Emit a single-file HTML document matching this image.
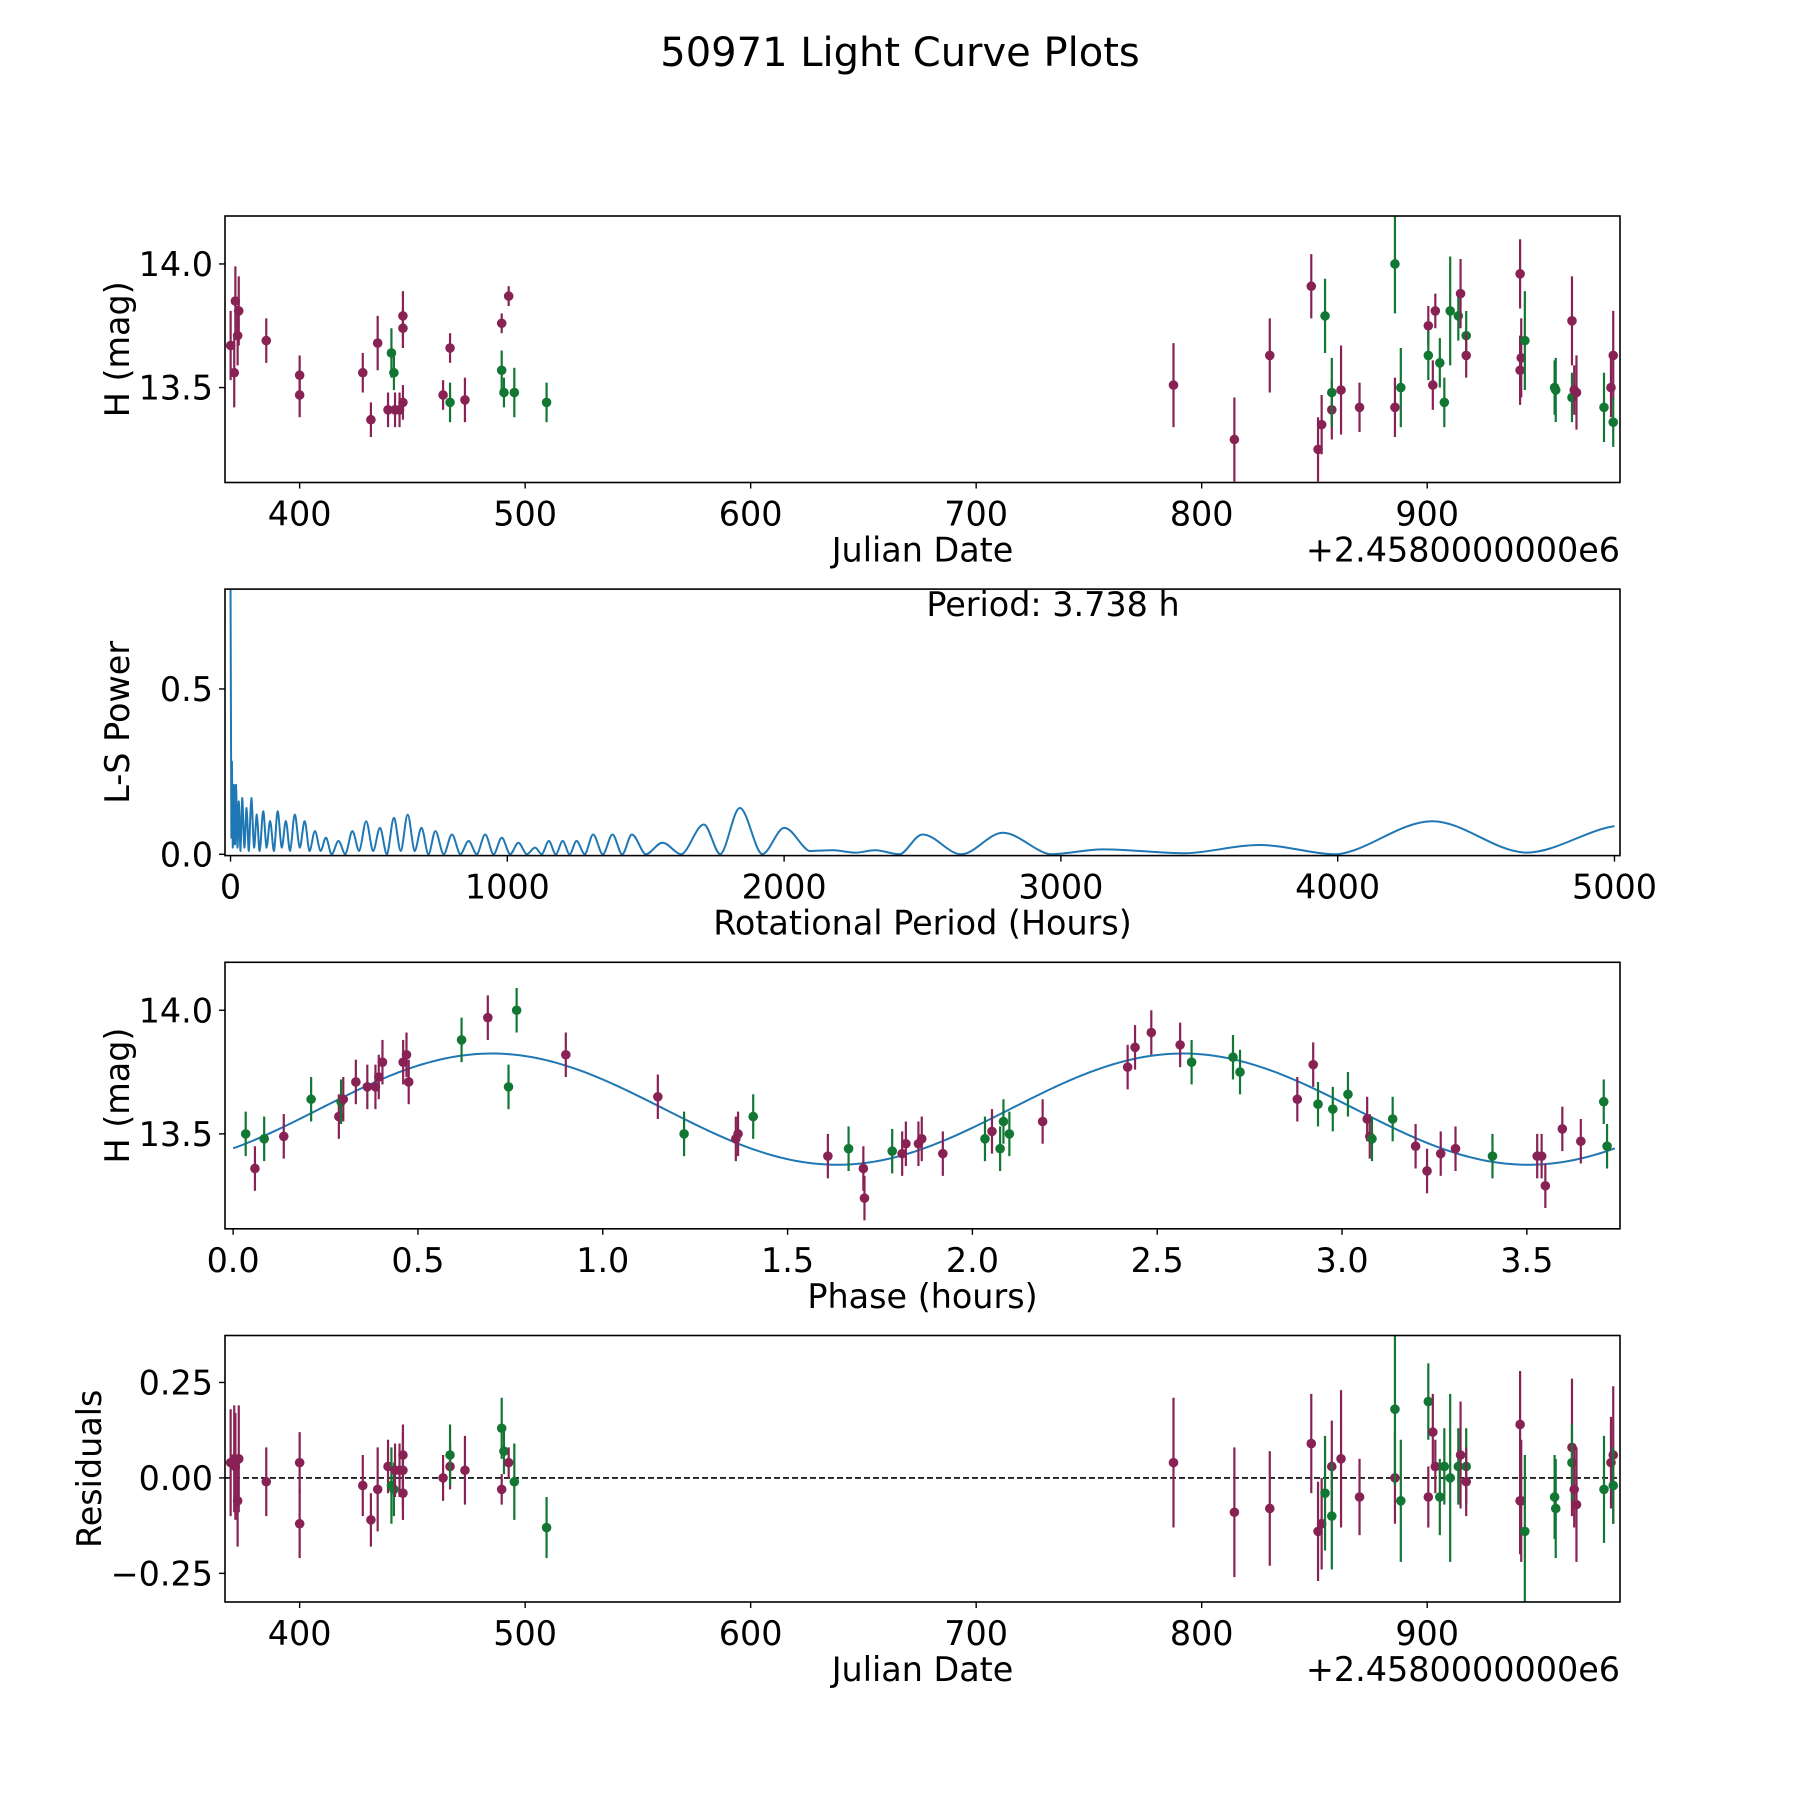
<!DOCTYPE html>
<html><head><meta charset="utf-8"><style>
html,body{margin:0;padding:0;background:#fff}
svg{display:block;font-family:"DejaVu Sans","Liberation Sans",sans-serif}
</style></head><body>
<svg id="fig" width="1800" height="1800" viewBox="0 0 1800 1800" xmlns="http://www.w3.org/2000/svg">
<rect width="1800" height="1800" fill="#fff"/>
<text x="900" y="66" font-size="40" text-anchor="middle">50971 Light Curve Plots</text>
</svg>
<script>
// ---- Data ----
const jd = [369.4,371,371.5,372.5,373,385.2,400,400,428,431.6,434.6,439.2,440.7,441.8,442.3,444.3,445.8,445.8,445.8,463.6,466.7,466.7,473.3,489.6,489.6,490.6,492.7,495.2,509.5,
787.5,814.5,830.2,848.6,851.6,853.2,854.7,857.7,857.7,861.8,870,885.7,885.7,888.3,900.5,900.5,902.5,903.6,905.6,907.6,910.2,913.8,914.8,917.3,917.3,941.2,941.2,941.7,943.3,956.5,957,964.2,964.2,965.2,966.2,978.4,981.5,982.5,982.5];
const mag = [13.67,13.56,13.85,13.71,13.81,13.69,13.55,13.47,13.56,13.37,13.68,13.41,13.64,13.56,13.41,13.41,13.74,13.79,13.44,13.47,13.66,13.44,13.45,13.76,13.57,13.48,13.87,13.48,13.44,
13.51,13.29,13.63,13.91,13.25,13.35,13.79,13.41,13.48,13.49,13.42,13.42,14.0,13.50,13.75,13.63,13.51,13.81,13.60,13.44,13.81,13.79,13.88,13.71,13.63,13.96,13.57,13.62,13.69,13.50,13.49,13.77,13.46,13.49,13.48,13.42,13.50,13.63,13.36];
const magErr = [0.14,0.14,0.14,0.12,0.14,0.09,0.08,0.09,0.08,0.07,0.11,0.07,0.1,0.07,0.07,0.07,0.08,0.1,0.07,0.06,0.06,0.08,0.09,0.04,0.08,0.06,0.04,0.1,0.08,
0.17,0.17,0.15,0.13,0.13,0.12,0.15,0.12,0.14,0.18,0.1,0.12,0.2,0.16,0.08,0.1,0.1,0.07,0.1,0.1,0.22,0.1,0.14,0.1,0.09,0.14,0.14,0.16,0.2,0.11,0.13,0.18,0.1,0.1,0.15,0.14,0.12,0.18,0.1];
const band = "mmmmmmmmmmmmggmmmmmmmgmmggmgg"+"mmmmmmgmgmmmggmgmmggggmgmmmmgggmgmmgmmgg"+"m";
const resid = [0.04,0.05,0.03,-0.06,0.05,-0.01,0.04,-0.12,-0.02,-0.11,-0.03,0.03,-0.02,-0.03,0.02,0.02,0.06,0.02,-0.04,0.0,0.03,0.06,0.02,-0.03,0.13,0.07,0.04,-0.01,-0.13,
0.04,-0.09,-0.08,0.09,-0.14,-0.12,-0.04,0.03,-0.10,0.05,-0.05,0.0,0.18,-0.06,-0.05,0.20,0.12,0.03,-0.05,0.03,0.0,0.03,0.06,0.03,-0.01,0.14,-0.06,-0.06,-0.14,-0.05,-0.08,0.08,0.04,-0.03,-0.07,-0.03,0.04,0.06,-0.02];
const phase = [0.034,0.059,0.084,0.137,0.211,0.286,0.292,0.298,0.332,0.363,0.385,0.394,0.404,0.46,0.469,0.475,0.618,0.689,0.745,0.767,0.90,1.149,1.22,1.36,1.366,1.407,1.609,1.665,1.705,1.708,1.783,1.81,1.82,1.854,1.863,1.92,2.034,2.053,2.075,2.084,2.10,2.19,2.42,2.44,2.484,2.562,2.593,2.705,2.724,2.879,2.922,2.935,2.975,3.016,3.068,3.075,3.081,3.137,3.199,3.23,3.267,3.307,3.407,3.528,3.54,3.55,3.596,3.646,3.708,3.717];
const phaseMag = [13.50,13.36,13.48,13.49,13.64,13.57,13.63,13.64,13.71,13.69,13.69,13.73,13.79,13.79,13.82,13.71,13.88,13.97,13.69,14.0,13.82,13.65,13.50,13.48,13.50,13.57,13.41,13.44,13.36,13.24,13.43,13.42,13.46,13.46,13.48,13.42,13.48,13.51,13.44,13.55,13.50,13.55,13.77,13.85,13.91,13.86,13.79,13.81,13.75,13.64,13.78,13.62,13.60,13.66,13.56,13.49,13.48,13.56,13.45,13.35,13.42,13.44,13.41,13.41,13.41,13.29,13.52,13.47,13.63,13.45];
const phaseBand = "gmgmgmgmmmmmmmmmgmgg"+"mmgmmgmgmmgmmmmmgmggg"+"mmmmmgggmmgggmmggmmmmgmmmmmggm";
const periodH = [0,3,5,8,12,16,20,25,30,36,42,50,58,66,75,85,95,105,118,130,143,157,170,185,200,215,232,250,268,285,305,325,345,365,390,415,440,465,490,515,540,565,590,615,640,665,690,715,740,770,800,830,860,890,920,950,980,1010,1040,1070,1100,1125,1150,1175,1200,1225,1250,1280,1310,1345,1380,1415,1450,1500,1560,1630,1710,1770,1840,1920,2000,2090,2180,2260,2330,2420,2500,2640,2790,2960,3150,3450,3720,4000,4340,4680,5000];
const power = [0.80,0.05,0.28,0.02,0.21,0.03,0.21,0.02,0.16,0.01,0.17,0.02,0.14,0.01,0.17,0.02,0.12,0.01,0.13,0.02,0.10,0.01,0.13,0.02,0.10,0.01,0.12,0.02,0.10,0.01,0.07,0.01,0.05,0.0,0.04,0.0,0.07,0.01,0.10,0.01,0.08,0.0,0.11,0.01,0.12,0.01,0.08,0.0,0.07,0.0,0.06,0.0,0.04,0.0,0.06,0.0,0.05,0.0,0.035,0.0,0.02,0.0,0.04,0.0,0.04,0.0,0.04,0.0,0.06,0.0,0.06,0.0,0.06,0.0,0.035,0.0,0.09,0.0,0.14,0.0,0.08,0.01,0.012,0.005,0.012,0.0,0.06,0.0,0.065,0.0,0.015,0.003,0.028,0.0,0.10,0.005,0.085];
const modelMean = 13.6, modelAmp = 0.225, modelPeak = 0.7, modelPeriod = 3.738;
const jdTicks = [400,500,600,700,800,900];
const magTicks = [13.5,14.0];
const perTicks = [0,1000,2000,3000,4000,5000];
const powTicks = [0,0.5];
const phTicks = [0,0.5,1,1.5,2,2.5,3,3.5];
const resTicks = [-0.25,0,0.25];

// ---- Helpers ----
const NS="http://www.w3.org/2000/svg", svg=document.getElementById('fig');
const MC="#882255", GC="#117733", FS=33.4;
function mk(t,a,p){const e=document.createElementNS(NS,t);for(const k in a)e.setAttribute(k,a[k]);(p||svg).appendChild(e);return e;}
const L=225,W=1395,H=266.5,tops=[216,589.1,962.3,1335.5];
function lin(d0,d1,r0,r1){return v=>r0+(v-d0)/(d1-d0)*(r1-r0);}
function panel(i,xd,yd,xt,yt,xfmt,yfmt,xlab,ylab,offset,name){
  const g=mk('g',{});
  
  
  const T=tops[i], x=lin(xd[0],xd[1],L,L+W), y=lin(yd[0],yd[1],T+H,T);
  const body=mk('g',{},g);
  const frame=()=>{
    const f=mk('rect',{x:L,y:T,width:W,height:H,fill:'none',stroke:'#000','stroke-width':1.6},g);
     
    xt.forEach(v=>{const px=x(v);mk('line',{x1:px,x2:px,y1:T+H,y2:T+H+6,stroke:'#000','stroke-width':1.4},g);
      const t=mk('text',{x:px,y:T+H+43,'font-size':FS,'text-anchor':'middle'},g);t.textContent=xfmt(v);
      });
    yt.forEach(v=>{const py=y(v);mk('line',{x1:L-6,x2:L,y1:py,y2:py,stroke:'#000','stroke-width':1.4},g);
      const t=mk('text',{x:L-12,y:py+12,'font-size':FS,'text-anchor':'end'},g);t.textContent=yfmt(v);
      });
    const xl=mk('text',{x:L+W/2,y:T+H+79,'font-size':FS,'text-anchor':'middle'},g);xl.textContent=xlab;
    
    const yl=mk('text',{x:0,y:0,'font-size':FS,'text-anchor':'middle',transform:`translate(${i==3?101:129},${T+H/2}) rotate(-90)`},g);yl.textContent=ylab;
    
    if(offset){const o=mk('text',{x:L+W,y:T+H+79,'font-size':FS,'text-anchor':'end'},g);o.textContent=offset;
      }
  };
  const clip=mk('clipPath',{id:'c'+i},g);mk('rect',{x:L,y:T,width:W,height:H},clip);
  body.setAttribute('clip-path','url(#c'+i+')');
  return {x,y,body,frame};
}
function errpt(p,xv,yv,e,c){
  const px=p.x(xv),py=p.y(yv);
  const l=mk('line',{x1:px,x2:px,y1:p.y(yv-e),y2:p.y(yv+e),stroke:c,'stroke-width':2.2},p.body);
  
  const d=mk('circle',{cx:px,cy:py,r:4.8,fill:c},p.body);
  
}
const jdFmt=v=>String(v), off='+2.4580000000e6';

// Panel 1
const p1=panel(0,[366.9,985.5],[13.116,14.194],jdTicks,magTicks,jdFmt,v=>v.toFixed(1),'Julian Date','H (mag)',off,'light-curve-panel');
jd.forEach((v,i)=>errpt(p1,v,mag[i],magErr[i],band[i]=='g'?GC:MC));
p1.frame();

// Panel 2 (smooth curve through data points)
const p2=panel(1,[-20,5020],[-0.004,0.802],perTicks,powTicks,v=>String(v),v=>v.toFixed(1),'Rotational Period (Hours)','L-S Power',null,'periodogram-panel');
const pts=periodH.map((v,i)=>[p2.x(v),p2.y(power[i])]);
let d='M'+pts[0][0].toFixed(2)+','+pts[0][1].toFixed(2);
for(let i=0;i<pts.length-1;i++){
  const p0=pts[Math.max(0,i-1)],a=pts[i],b=pts[i+1],p3=pts[Math.min(pts.length-1,i+2)];
  let c1y=a[1]+(b[1]-p0[1])/6, c2y=b[1]-(p3[1]-a[1])/6;
  const lo=Math.max(a[1],b[1]), hi=Math.min(a[1],b[1]);
  c1y=Math.min(Math.max(c1y,hi-40),lo); c2y=Math.min(Math.max(c2y,hi-40),lo);
  d+='C'+(a[0]+(b[0]-a[0])/3).toFixed(2)+','+c1y.toFixed(2)+' '+(b[0]-(b[0]-a[0])/3).toFixed(2)+','+c2y.toFixed(2)+' '+b[0].toFixed(2)+','+b[1].toFixed(2);
}
const pl=mk('path',{d:d,fill:'none',stroke:'#1f77b4','stroke-width':2,'stroke-linejoin':'round'},p2.body);

p2.frame();
const pt=mk('text',{x:1053,y:tops[1]+27,'font-size':FS,'text-anchor':'middle'});pt.textContent='Period: 3.738 h';


// Panel 3
const p3=panel(2,[-0.022,3.752],[13.116,14.194],phTicks,magTicks,v=>v.toFixed(1),v=>v.toFixed(1),'Phase (hours)','H (mag)',null,'phased-panel');
let md='';for(let k=0;k<=300;k++){const ph=k/300*modelPeriod;const m=modelMean+modelAmp*Math.cos(4*Math.PI*(ph-modelPeak)/modelPeriod);md+=(k?'L':'M')+p3.x(ph).toFixed(2)+','+p3.y(m).toFixed(2);}
const ml=mk('path',{d:md,fill:'none',stroke:'#1f77b4','stroke-width':2},p3.body);

phase.forEach((v,i)=>errpt(p3,v,phaseMag[i],0.09,phaseBand[i]=='g'?GC:MC));
p3.frame();

// Panel 4
const p4=panel(3,[366.9,985.5],[-0.325,0.373],jdTicks,resTicks,jdFmt,v=>(v<0?'\u22120.25':v.toFixed(2)),'Julian Date','Residuals',off,'residuals-panel');
const zl=mk('line',{x1:L,x2:L+W,y1:p4.y(0),y2:p4.y(0),stroke:'#000','stroke-width':1.6,'stroke-dasharray':'6,3'},p4.body);

jd.forEach((v,i)=>errpt(p4,v,resid[i],magErr[i],band[i]=='g'?GC:MC));
p4.frame();
</script>
</body></html>
